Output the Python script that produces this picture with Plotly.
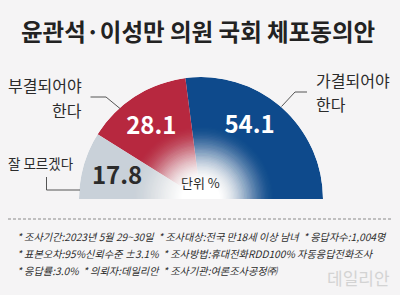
import numpy as np
import plotly.graph_objects as go

# ---------------- data ----------------
categories = ["가결되어야 한다", "부결되어야 한다", "잘 모르겠다"]
values = [54.1, 28.1, 17.8]
value_labels = ["54.1", "28.1", "17.8"]
title_text = "윤관석·이성만 의원 국회 체포동의안"
unit_text = "단위 %"
notes = [
    "* 조사기간:2023년 5월 29~30일  * 조사대상:전국 만18세 이상 남녀  * 응답자수:1,004명",
    "* 표본오차:95%신뢰수준 ±3.1%  * 조사방법:휴대전화RDD100% 자동응답전화조사",
    "* 응답률:3.0%  * 의뢰자:데일리안  * 조사기관:여론조사공정㈜",
]
watermark = "데일리안"

# ---------------- style ----------------
W, H = 400, 295
CX, CY, R = 201, 199, 122          # centre / radius of half-doughnut in px
colors = ["#0e4a8c", "#b7283f", "#c9d1d9"]
value_colors = ["white", "white", "#2b2b2b"]
label_theta_shift = [7.2, 2.3, 1.8]
label_r = 0.71
BG = "#f5f4f5"
FONT = "Noto Sans CJK KR"


def px(x):
    return x / W


def py(y):
    return 1 - y / H


# angular geometry from the data
total = sum(values)
widths = [v / total * 180 for v in values]
starts = np.concatenate([[0], np.cumsum(widths)[:-1]])
centers = [s + w / 2 for s, w in zip(starts, widths)]

fig = go.Figure()

fig.add_trace(go.Barpolar(
    r=[1] * len(values), theta=centers, width=widths,
    marker=dict(color=colors, line=dict(width=0)),
    hoverinfo="skip", showlegend=False,
))

# white radial fade in the centre
r_in, r_out, n = 0.16, 0.62, 40
edges = np.linspace(r_in, r_out, n + 1)[1:]
mids = (np.concatenate([[r_in], edges[:-1]]) + edges) / 2
t = (mids - r_in) / (r_out - r_in)
alpha = 1 - (3 * t ** 2 - 2 * t ** 3)
alpha = np.clip(alpha, 0, 0.999)
alpha_next = np.concatenate([alpha[1:], [0]])
a = 1 - (1 - alpha) / (1 - alpha_next)
rs = [r_in] + list(edges)
cols = ["rgba(255,255,255,1)"] + [f"rgba(255,255,255,{x:.4f})" for x in a]
fig.add_trace(go.Barpolar(
    r=rs, theta=[90] * len(rs), width=[180] * len(rs),
    marker=dict(color=cols, line=dict(width=0)),
    hoverinfo="skip", showlegend=False,
))

fig.add_trace(go.Scatterpolar(
    r=[label_r] * len(values),
    theta=[c + s for c, s in zip(centers, label_theta_shift)],
    mode="text", text=value_labels,
    textfont=dict(family=FONT, size=24, color=value_colors, weight="bold"),
    hoverinfo="skip", showlegend=False,
))

fig.update_layout(
    width=W, height=H,
    margin=dict(l=0, r=0, t=0, b=0),
    paper_bgcolor=BG, plot_bgcolor=BG,
    polar=dict(
        domain=dict(x=[px(CX - R), px(CX + R)], y=[py(CY), py(CY - R)]),
        sector=[0, 180], hole=0, barmode="overlay",
        bgcolor="rgba(0,0,0,0)",
        radialaxis=dict(range=[0, 1], visible=False),
        angularaxis=dict(visible=False, rotation=0, direction="counterclockwise"),
    ),
    font=dict(family=FONT, color="#2b2b2b"),
)

ann = []
ann.append(dict(x=px(198), y=py(31.5), text=title_text, xanchor="center", yanchor="middle",
                font=dict(size=23.5, weight="bold", color="#222222")))
# category labels
l1, l2 = categories[1].split(" ")
ann.append(dict(x=px(84), y=py(85), text=l1, xanchor="right", yanchor="middle", font=dict(size=16, color="#2b2b2b")))
ann.append(dict(x=px(84), y=py(110), text=l2, xanchor="right", yanchor="middle", font=dict(size=16, color="#2b2b2b")))
r1, r2 = categories[0].split(" ")
ann.append(dict(x=px(314), y=py(79.5), text=r1, xanchor="left", yanchor="middle", font=dict(size=16, color="#2b2b2b")))
ann.append(dict(x=px(314), y=py(104), text=r2, xanchor="left", yanchor="middle", font=dict(size=16, color="#2b2b2b")))
ann.append(dict(x=px(76), y=py(162.5), text=categories[2], xanchor="right", yanchor="middle", font=dict(size=13.5, color="#2b2b2b")))
ann.append(dict(x=px(200), y=py(182), text=unit_text, xanchor="center", yanchor="middle", font=dict(size=13, color="#2b2b2b")))
# footnotes
for i, line in enumerate(notes):
    ann.append(dict(x=px(15), y=py(236 + 17 * i), text=line, xanchor="left", yanchor="middle",
                    font=dict(size=10.2, color="#2e2e2e", style="italic")))
ann.append(dict(x=px(392), y=py(277), text=watermark, xanchor="right", yanchor="middle",
                font=dict(size=17, color="#d3d3d3")))
for a_ in ann:
    a_.update(xref="paper", yref="paper", showarrow=False)
fig.update_layout(annotations=ann)

line_style = dict(color="#555555", width=1)
shapes = [
    dict(type="path", path=f"M {px(90.5)},{py(97)} L {px(106)},{py(97)} L {px(120)},{py(108.5)}", line=line_style),
    dict(type="path", path=f"M {px(307)},{py(92)} L {px(295)},{py(92)} L {px(281.5)},{py(106.5)}", line=line_style),
    dict(type="path", path=f"M {px(46.5)},{py(177)} L {px(46.5)},{py(190)} L {px(80)},{py(190)}", line=line_style),
    dict(type="line", x0=px(8), x1=px(392), y0=py(219), y1=py(219),
         line=dict(color="#8a8a8a", width=1, dash="3px,2px")),
]
for s in shapes:
    s.update(xref="paper", yref="paper")
fig.update_layout(shapes=shapes)

fig.write_html("out.html")
